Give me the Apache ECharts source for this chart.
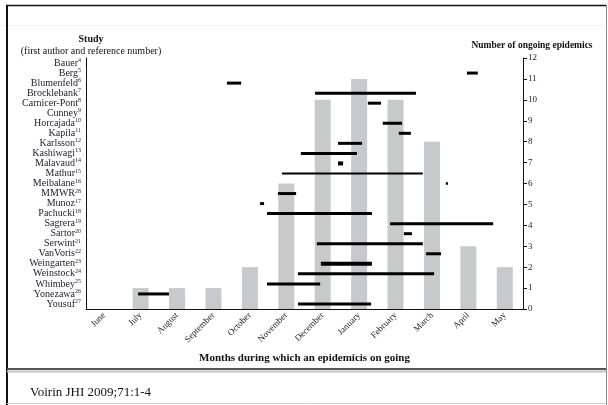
<!DOCTYPE html>
<html>
<head>
<meta charset="utf-8">
<script src="https://cdn.jsdelivr.net/npm/echarts@6/dist/echarts.min.js"></script>
<style>html,body{margin:0;padding:0;background:#fff;}#c{width:608px;height:405px;}</style>
</head>
<body>
<div id="c"></div>
<script>
var months = ['June','July','August','September','October','November','December','January','February','March','April','May'];
var epidemicCounts = [0,1,1,1,2,6,10,11,10,8,3,2];
var countTicks = [0,1,2,3,4,5,6,7,8,9,10,11,12];

var studies = ['Bauer','Berg','Blumenfeld','Brocklebank','Carnicer-Pont','Cunney','Horcajada','Kapila','Karlsson','Kashiwagi','Malavaud','Mathur','Meibalane','MMWR','Munoz','Pachucki','Sagrera','Sartor','Serwint','VanVoris','Weingarten','Weinstock','Whimbey','Yonezawa','Yousuf'];
var refNums = ['4','5','6','7','8','9','10','11','12','13','14','15','16','28','17','18','19','20','21','22','23','24','25','26','27'];
// epidemic period, in months from the start of June
var periodStart = [null,10.46,3.87,6.29,7.74,null,8.15,8.59,6.92,5.90,6.92,5.38,9.88,5.27,4.78,4.97,8.35,8.73,6.34,9.34,6.45,5.82,4.97,1.43,5.82];
var periodEnd   = [null,10.76,4.26,9.06,8.10,null,8.68,8.92,7.58,7.44,7.06,9.25,9.94,5.77,4.89,7.85,11.18,8.95,9.25,9.75,7.85,9.56,6.43,2.28,7.83];

var SERIF = '"Liberation Serif","DejaVu Serif",serif';
var lineWidthByStudy = {Mathur: 2, Weingarten: 4, Malavaud: 4, Meibalane: 2.5};

var segData = [];
studies.forEach(function (s, i) {
  if (periodStart[i] != null) segData.push([periodStart[i], periodEnd[i], i]);
});

var chart = echarts.init(document.getElementById('c'));
chart.setOption({
  animation: false,
  backgroundColor: '#fff',
  textStyle: {fontFamily: SERIF},
  title: [
    {text: 'Study', subtext: '(first author and reference number)', left: 91, top: 34, textAlign: 'center', padding: 0, itemGap: 2,
     textStyle: {fontFamily: SERIF, fontSize: 10, fontWeight: 'bold', color: '#111'},
     subtextStyle: {fontFamily: SERIF, fontSize: 10, color: '#111'}},
    {text: 'Voirin JHI 2009;71:1-4', left: 30, top: 386, padding: 0,
     textStyle: {fontFamily: SERIF, fontSize: 13, fontWeight: 'normal', color: '#111'}}
  ],
  graphic: [
    {type: 'line', shape: {x1: 0, y1: 25.5, x2: 604, y2: 25.5}, style: {stroke: '#f1f1f1', lineWidth: 1}, silent: true},
    {type: 'line', shape: {x1: 6, y1: 5.5, x2: 606, y2: 5.5}, style: {stroke: '#111', lineWidth: 1.5}, silent: true},
    {type: 'line', shape: {x1: 7, y1: 5, x2: 7, y2: 405}, style: {stroke: '#111', lineWidth: 2}, silent: true},
    {type: 'line', shape: {x1: 606.5, y1: 5, x2: 606.5, y2: 405}, style: {stroke: '#888', lineWidth: 1}, silent: true},
    {type: 'line', shape: {x1: 7, y1: 403.5, x2: 606, y2: 403.5}, style: {stroke: '#d0d0d0', lineWidth: 1}, silent: true},
    {type: 'line', shape: {x1: 7, y1: 369, x2: 606, y2: 369}, style: {stroke: '#555', lineWidth: 2}, silent: true},
    {type: 'line', shape: {x1: 7, y1: 371.5, x2: 606, y2: 371.5}, style: {stroke: '#c4c4c4', lineWidth: 2}, silent: true}
  ],
  grid: {left: 86, right: 85, top: 58, bottom: 96, containLabel: false},
  xAxis: [
    {type: 'category', data: months, boundaryGap: true,
     name: 'Months during which an epidemicis on going', nameLocation: 'middle', nameGap: 44,
     nameTextStyle: {fontFamily: SERIF, fontSize: 11, fontWeight: 'bold', color: '#111'},
     axisLine: {lineStyle: {color: '#111', width: 1}},
     axisTick: {length: 4, interval: 0, lineStyle: {color: '#111'}},
     axisLabel: {rotate: 45, fontFamily: SERIF, fontSize: 9, color: '#222', margin: 5, interval: 0},
     splitLine: {show: false}},
    {type: 'value', min: 0, max: 12, show: false, splitLine: {show: false}}
  ],
  yAxis: [
    {type: 'category', data: studies, inverse: true, position: 'left', boundaryGap: true,
     axisLine: {lineStyle: {color: '#111', width: 1}},
     axisTick: {alignWithLabel: true, length: 4, interval: 0, lineStyle: {color: '#111'}},
     axisLabel: {interval: 0, margin: 5,
       formatter: function (v, i) { return '{n|' + v + '}{s|' + refNums[i] + '}'; },
       rich: {n: {fontFamily: SERIF, fontSize: 10, color: '#1b1b2e', lineHeight: 11},
              s: {fontFamily: SERIF, fontSize: 6, color: '#1b1b2e', verticalAlign: 'top', lineHeight: 6}}},
     splitLine: {show: false}},
    {type: 'value', position: 'right', min: 0, max: 12, interval: 1,
     name: 'Number of ongoing epidemics', nameLocation: 'end', nameGap: 7,
     nameTextStyle: {fontFamily: SERIF, fontSize: 9.5, fontWeight: 'bold', color: '#111', align: 'center', padding: [0, 0, 0, 18]},
     axisLine: {show: true, lineStyle: {color: '#111', width: 1}},
     axisTick: {show: true, length: 4, lineStyle: {color: '#111'}},
     axisLabel: {fontFamily: SERIF, fontSize: 9, color: '#222', margin: 5,
       formatter: function (v) { return countTicks.indexOf(v) >= 0 ? String(v) : ''; }},
     splitLine: {show: false}}
  ],
  series: [
    {type: 'bar', xAxisIndex: 0, yAxisIndex: 1, data: epidemicCounts, barWidth: 16,
     itemStyle: {color: '#c8c9cb'}, silent: true, z: 1},
    {type: 'custom', xAxisIndex: 1, yAxisIndex: 0, data: segData, z: 5, silent: true,
     encode: {x: [0, 1], y: 2},
     renderItem: function (params, api) {
       var a = api.coord([api.value(0), api.value(2)]);
       var b = api.coord([api.value(1), api.value(2)]);
       var name = studies[api.value(2)];
       var w = lineWidthByStudy[name] || 3;
       return {type: 'line', shape: {x1: a[0], y1: a[1], x2: b[0], y2: b[1]},
               style: {stroke: '#000', lineWidth: w}};
     }}
  ]
});
</script>
</body>
</html>
